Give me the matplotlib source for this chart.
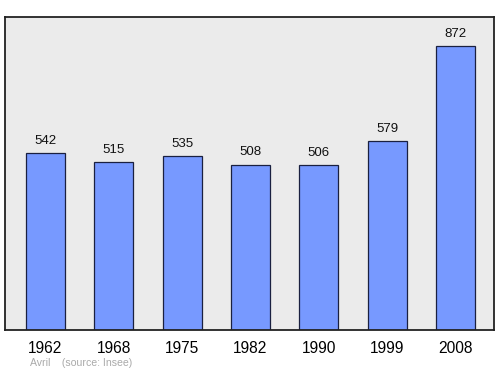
import matplotlib
matplotlib.use("Agg")
import matplotlib.pyplot as plt

years = ["1962", "1968", "1975", "1982", "1990", "1999", "2008"]
population = [542, 515, 535, 508, 506, 579, 872]

plt.rcParams['font.family'] = ['Liberation Sans', 'DejaVu Sans']

fig = plt.figure(figsize=(5.0, 3.74), dpi=100)
ax = fig.add_axes([5/500, 1 - 330/374, 489/500, 313/374])
ax.set_facecolor('#ebebeb')
x = list(range(len(years)))
ax.bar(x, population, width=0.57, color='#7799ff', edgecolor='#1a2040', linewidth=0.9, zorder=2)
for xi, v in zip(x, population):
    ax.text(xi, v + 28, str(v), ha='center', va='baseline', fontsize=9.5, color='#111111')
ax.set_xlim(-0.593, 6.563)
ax.set_ylim(0, 961)
ax.set_yticks([])
ax.set_xticks(x)
ax.set_xticklabels(years, fontsize=11.2)
ax.tick_params(axis='x', length=0, pad=8)
for s in ax.spines.values():
    s.set_linewidth(1.3)
    s.set_color('#222222')
fig.text(30/500, 1 - 363/374, "Avril    (source: Insee)", fontsize=7.6, color='#aaaaaa', va='center', ha='left')
fig.savefig("out.png", dpi=100)
